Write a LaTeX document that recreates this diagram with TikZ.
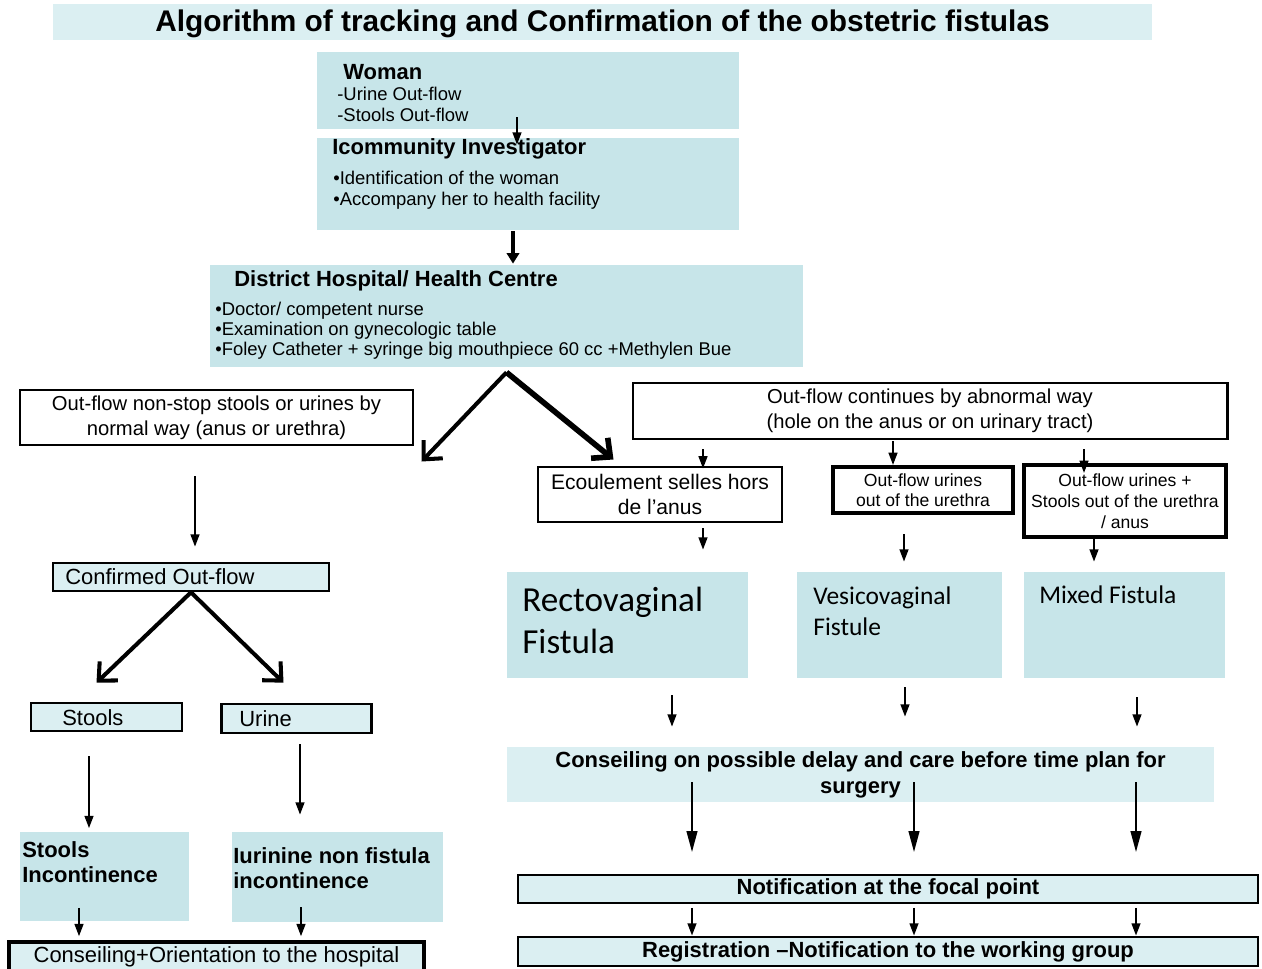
\documentclass[tikz,border=0pt]{standalone}
\usepackage{fontspec}
\setmainfont{Liberation Sans}
\newfontfamily\calibri{Carlito}
\usetikzlibrary{arrows.meta,calc}
\definecolor{tealbox}{RGB}{199,229,233}
\definecolor{tealpale}{RGB}{219,239,242}
\newcommand{\px}{0.02cm}

\begin{document}
\begin{tikzpicture}[x=0.02cm, y=-0.02cm,
    tbox/.style={fill=tealbox, inner sep=0pt},
    wbox/.style={fill=white, draw=black, line width=1.7pt, align=center, inner sep=0pt,
        font=\fontsize{11.5}{14.2}\selectfont},
    cbox/.style={fill=tealpale, draw=black, line width=1.5pt, inner sep=0pt},
    hd/.style={font=\fontsize{12.5}{14}\selectfont\bfseries, inner sep=0pt},
    body/.style={font=\fontsize{10.5}{12}\selectfont, inner sep=0pt, align=left},
    gap/.style 2 args={shorten <=#1*\px, shorten >=#2*\px},
    arr/.style={line width=1.1pt, -{Triangle[length=7pt,width=5pt]}},
    barr/.style={line width=2.3pt, -{Triangle[length=6pt,width=7pt]}},
    larr/.style={line width=1.4pt, -{Triangle[length=12pt,width=6pt]}},
    vee/.style={line width=2.3pt, -{Straight Barb[length=8pt,width=15pt]}}]
    \useasboundingbox (0,0) rectangle (1262,969);

    \node[tbox, fill=tealpale, minimum width=1099*\px, minimum height=36*\px] (title) at (602.5,22) {};
    \node[anchor=base, inner sep=0pt, font=\fontsize{17}{20}\selectfont\bfseries] (titletxt) at (602.5,32)
        {Algorithm of tracking and Confirmation of the obstetric fistulas};

    \node[tbox, minimum width=422*\px, minimum height=77*\px] (woman) at (528,90.5) {};
    \node[hd, anchor=base west] (womanhd) at (343,80) {Woman};
    \node[body, anchor=base west] (womantxt) at (337,122) {-Urine Out-flow\\-Stools Out-flow};

    \node[tbox, minimum width=422*\px, minimum height=92*\px] (invest) at (528,184) {};
    \node[hd, anchor=base west] (investhd) at (332,155) {Icommunity Investigator};
    \node[body, anchor=base west] (investtxt) at (333,206)
        {•Identification of the woman\\•Accompany her to health facility};

    \node[tbox, minimum width=593*\px, minimum height=102*\px] (district) at (506.5,316) {};
    \node[hd, anchor=base west] (districthd) at (234,287) {District Hospital/ Health Centre};
    \node[body, anchor=base west, font=\fontsize{10.5}{11.6}\selectfont] (districttxt) at (215,356)
        {•Doctor/ competent nurse\\•Examination on gynecologic table\\•Foley Catheter + syringe big mouthpiece 60 cc +Methylen Bue};

    \node[wbox, minimum width=393*\px, minimum height=55*\px] (nonstop) at (216.5,417.5)
        {Out-flow non-stop stools or urines by\\normal way (anus or urethra)};
    \node[wbox, minimum width=594*\px, minimum height=56*\px] (abnormal) at (930,411)
        {Out-flow continues by abnormal way\\(hole on the anus or on urinary tract)};
    \node[wbox, font=\fontsize{12}{14.2}\selectfont, minimum width=244*\px, minimum height=55*\px] (ecoul) at (660,494.5)
        {Ecoulement selles hors\\de l'anus};
    \node[wbox, line width=2.3pt, font=\fontsize{10}{11.3}\selectfont, minimum width=180*\px, minimum height=46*\px] (urines) at (923,490)
        {Out-flow urines\\out of the urethra};
    \node[wbox, line width=2.3pt, font=\fontsize{10}{12}\selectfont, minimum width=202*\px, minimum height=72*\px] (mixedflow) at (1125,501)
        {Out-flow urines +\\Stools out of the urethra\\/ anus};

    \node[cbox, minimum width=276*\px, minimum height=28*\px] (confirmed) at (191,577) {};
    \node[anchor=base west, inner sep=0pt, font=\fontsize{12.5}{14}\selectfont] (confirmedtxt) at (65,584) {Confirmed Out-flow};
    \node[cbox, minimum width=151*\px, minimum height=28*\px] (stools) at (106.5,717) {};
    \node[anchor=base west, inner sep=0pt, font=\fontsize{12.5}{14}\selectfont] (stoolstxt) at (62,725) {Stools};
    \node[cbox, minimum width=150*\px, minimum height=29*\px] (urine) at (296.5,718.5) {};
    \node[anchor=base west, inner sep=0pt, font=\fontsize{12.5}{14}\selectfont] (urinetxt) at (239,726) {Urine};

    \node[tbox, minimum width=241*\px, minimum height=106*\px] (recto) at (627.5,625) {};
    \node[anchor=base west, inner sep=0pt, align=left, font=\calibri\fontsize{20}{23.8}\selectfont] (rectotxt) at (522,653)
        {Rectovaginal\\Fistula};
    \node[tbox, minimum width=205*\px, minimum height=106*\px] (vesico) at (899.5,625) {};
    \node[anchor=base west, inner sep=0pt, align=left, font=\calibri\fontsize{14.5}{18}\selectfont] (vesicotxt) at (813,636)
        {Vesicovaginal\\Fistule};
    \node[tbox, minimum width=201*\px, minimum height=106*\px] (mixed) at (1124.5,625) {};
    \node[anchor=base west, inner sep=0pt, font=\calibri\fontsize{14.5}{18}\selectfont] (mixedtxt) at (1039,603) {Mixed Fistula};

    \node[tbox, fill=tealpale, minimum width=707*\px, minimum height=55*\px, align=center,
        font=\fontsize{12.5}{14.7}\selectfont\bfseries] (conseil) at (860.5,774.5)
        {Conseiling on possible delay and care before time plan for\\surgery};

    \node[tbox, minimum width=169*\px, minimum height=89*\px] (stoolinc) at (104.5,876) {};
    \node[hd, anchor=base west, align=left] (stoolinctxt) at (22,882) {Stools\\Incontinence};
    \node[tbox, minimum width=211*\px, minimum height=90*\px] (urininc) at (337.5,877) {};
    \node[hd, anchor=base west, align=left] (urininctxt) at (233,888) {Iurinine non fistula\\incontinence};

    \node[cbox, line width=2pt, minimum width=415*\px, minimum height=30*\px,
        font=\fontsize{12.5}{14}\selectfont] (orient) at (216.5,957) {Conseiling+Orientation to the hospital};
    \node[cbox, line width=0.9pt, minimum width=740*\px, minimum height=28*\px, hd] (notif) at (888,889)
        {Notification at the focal point};
    \node[cbox, line width=1.6pt, minimum width=740*\px, minimum height=29*\px, hd] (regist) at (888,951.5)
        {Registration –Notification to the working group};

    \draw[arr, gap={-12}{-7}] (517,0 |- woman.south) -- (517,0 |- invest.north);
    \draw[barr, gap={1}{1}] (513,0 |- invest.south) -- (513,0 |- district.north);
    \draw[vee] ([shift={(0,5)}]district.south) -- ([shift={(7,15)}]nonstop.south east);
    \draw[vee, line width=3.2pt] ([shift={(0,5)}]district.south) -- ([shift={(-18,19)}]abnormal.south west);
    \draw[arr, gap={30}{15}] (195,0 |- nonstop.south) -- (195,0 |- confirmed.north);

    \draw[arr, gap={9}{-3}] (703,0 |- abnormal.south) -- (703,0 |- ecoul.north);
    \draw[arr, gap={1}{0}] (893,0 |- abnormal.south) -- (893,0 |- urines.north);
    \draw[arr, gap={9}{-10}] (1084,0 |- abnormal.south) -- (1084,0 |- mixedflow.north);
    \draw[arr, gap={5}{22}] (703,0 |- ecoul.south) -- (703,0 |- recto.north);
    \draw[arr, gap={19}{10}] (904,0 |- urines.south) -- (904,0 |- vesico.north);
    \draw[arr, gap={-2}{10}] (1094,0 |- mixedflow.south) -- (1094,0 |- mixed.north);

    \draw[vee] (confirmed.south) -- ([shift={(-10,-19)}]stools.north);
    \draw[vee] (confirmed.south) -- ([shift={(-13,-20)}]urine.north);
    \draw[arr, gap={24}{3}] (89,0 |- stools.south) -- (89,0 |- stoolinc.north);
    \draw[arr, gap={10}{17}] (300,0 |- urine.south) -- (300,0 |- urininc.north);
    \draw[arr, gap={-13}{4}] (79,0 |- stoolinc.south) -- (79,0 |- orient.north);
    \draw[arr, gap={-15}{4}] (301,0 |- urininc.south) -- (301,0 |- orient.north);

    \draw[arr, gap={17}{20}] (672,0 |- recto.south) -- (672,0 |- conseil.north);
    \draw[arr, gap={9}{30}] (905,0 |- vesico.south) -- (905,0 |- conseil.north);
    \draw[arr, gap={19}{20}] (1137,0 |- mixed.south) -- (1137,0 |- conseil.north);
    \draw[larr, gap={-20}{22}] (692,0 |- conseil.south) -- (692,0 |- notif.north);
    \draw[larr, gap={-20}{22}] (914,0 |- conseil.south) -- (914,0 |- notif.north);
    \draw[larr, gap={-20}{22}] (1136,0 |- conseil.south) -- (1136,0 |- notif.north);
    \draw[arr, gap={4}{0}] (692,0 |- notif.south) -- (692,0 |- regist.north);
    \draw[arr, gap={4}{0}] (914,0 |- notif.south) -- (914,0 |- regist.north);
    \draw[arr, gap={4}{0}] (1136,0 |- notif.south) -- (1136,0 |- regist.north);
\end{tikzpicture}
\end{document}
